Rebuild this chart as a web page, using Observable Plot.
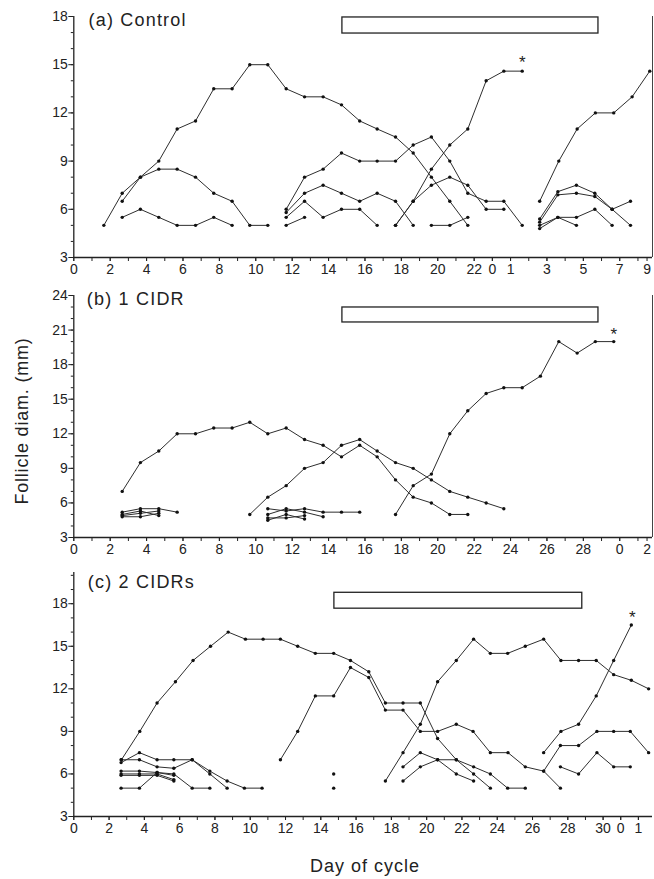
<!DOCTYPE html>
<html>
<head>
<meta charset="utf-8">
<script src="https://cdn.jsdelivr.net/npm/d3@7"></script>
<script src="https://cdn.jsdelivr.net/npm/@observablehq/plot@0.6"></script>
<style>
  html, body { margin: 0; padding: 0; background: #fff; }
  body { width: 654px; height: 879px; position: relative; overflow: hidden;
         font-family: "Liberation Sans", Arial, Helvetica, sans-serif; color: #222; }
  .panel { position: absolute; left: 0; }
  .panel svg { overflow: visible; }
  #ylab { position: absolute; left: 22px; top: 421px; transform: translate(-50%, -50%) rotate(-90deg);
          white-space: nowrap; font-size: 18px; letter-spacing: 0.8px; }
  #xlab { position: absolute; left: 365px; top: 866px; transform: translate(-50%, -50%);
          white-space: nowrap; font-size: 18px; letter-spacing: 1px; }
</style>
</head>
<body>
<div id="pa" class="panel" style="top:0px"></div>
<div id="pb" class="panel" style="top:280px"></div>
<div id="pc" class="panel" style="top:560px"></div>
<div id="ylab">Follicle diam. (mm)</div>
<div id="xlab">Day of cycle</div>
<script>
// ---------- Panel (a) Control ----------
const aTitle = "(a) Control";
const aYMajor = [3, 6, 9, 12, 15, 18];
const aYMinor = [3,4,5,6,7,8,9,10,11,12,13,14,15,16,17,18];
const aXTicks = [0, 2, 4, 6, 8, 10, 12, 14, 16, 18, 20, 22, 23, 24, 26, 28, 30, 31.5];
const aXLabels = ["0","2","4","6","8","10","12","14","16","18","20","22","0","1","3","5","7","9"];
const aBar = {x1: 14.76, x2: 28.83, y1: 16.94, y2: 17.94};
const aStar = {x: 24.64, y: 15.4};
const a1 = [[1.65,5],[2.66,7],[3.66,8],[4.67,9],[5.68,11],[6.69,11.5],[7.69,13.5],[8.70,13.5],[9.67,15],[10.66,15],[11.67,13.5],[12.68,13],[13.70,13],[14.71,12.5],[15.71,11.5],[16.67,11],[17.68,10.5],[18.65,9.5],[19.65,8],[20.66,6.5],[21.65,5]];
const a2 = [[2.66,6.5],[3.66,8],[4.67,8.5],[5.68,8.5],[6.69,8],[7.69,7],[8.70,6.5],[9.67,5],[10.66,5]];
const a3 = [[2.66,5.5],[3.66,6],[4.67,5.5],[5.68,5],[6.69,5],[7.69,5.5],[8.70,5]];
const a4 = [[11.67,6],[12.68,8],[13.70,8.5],[14.71,9.5],[15.71,9],[16.67,9],[17.68,9],[18.65,10],[19.65,10.5],[20.66,9],[21.65,7],[22.66,6.5],[23.63,6.5],[24.64,5]];
const a5 = [[11.67,5.8],[12.68,7],[13.70,7.5],[14.71,7],[15.71,6.5],[16.67,7],[17.68,6.5],[18.65,5]];
const a6 = [[11.67,5.5],[12.68,6.5],[13.70,5.5],[14.71,6],[15.71,6],[16.67,5]];
const a7 = [[11.67,5],[12.68,5.5]];
const a8 = [[17.68,5],[18.65,6.5],[19.65,8.5],[20.66,10],[21.65,11],[22.66,14],[23.63,14.6],[24.64,14.6]];
const a9 = [[17.68,5],[18.65,6.5],[19.65,7.5],[20.66,8],[21.65,7.5],[22.66,6],[23.63,6]];
const a10 = [[19.65,5],[20.66,5],[21.65,5.5]];
const a11 = [[25.6,6.5],[26.65,9],[27.66,11],[28.66,12],[29.67,12],[30.68,13],[31.65,14.6]];
const a12 = [[25.6,5.4],[26.6,7.1],[27.62,7.5],[28.63,7],[29.58,6],[30.59,5]];
const a13 = [[25.6,5.2],[26.6,6.9],[27.62,7],[28.63,6.8],[29.58,6],[30.59,6.5]];
const a14 = [[25.6,5],[26.6,5.5],[27.62,5.5],[28.63,6],[29.58,5]];
const a15 = [[25.6,4.8],[26.6,5.5],[27.62,5]];

// ---------- Panel (b) 1 CIDR ----------
const bTitle = "(b) 1 CIDR";
const bYMajor = [3, 6, 9, 12, 15, 18, 21, 24];
const bYMinor = [3,4,5,6,7,8,9,10,11,12,13,14,15,16,17,18,19,20,21,22,23,24];
const bXTicks = [0, 2, 4, 6, 8, 10, 12, 14, 16, 18, 20, 22, 24, 26, 28, 30, 31.5];
const bXLabels = ["0","2","4","6","8","10","12","14","16","18","20","22","24","26","28","0","2"];
const bBar = {x1: 14.76, x2: 28.83, y1: 21.66, y2: 22.96};
const bStar = {x: 29.67, y: 21.0};
const b1 = [[2.66,7],[3.66,9.5],[4.67,10.5],[5.68,12],[6.69,12],[7.69,12.5],[8.70,12.5],[9.67,13],[10.66,12],[11.67,12.5],[12.68,11.5],[13.70,11],[14.71,10],[15.71,11],[16.67,10],[17.68,8],[18.65,6.5],[19.65,6],[20.66,5],[21.65,5]];
const b2 = [[9.67,5],[10.66,6.5],[11.67,7.5],[12.68,9],[13.70,9.5],[14.71,11],[15.71,11.5],[16.67,10.5],[17.68,9.5],[18.65,9],[19.65,8],[20.66,7],[21.65,6.5],[22.66,6],[23.63,5.5]];
const b3 = [[17.68,5],[18.65,7.5],[19.65,8.5],[20.66,12],[21.65,14],[22.66,15.5],[23.63,16],[24.64,16],[25.64,17],[26.65,20],[27.66,19],[28.66,20],[29.67,20]];
const b4 = [[2.66,5.2],[3.66,5.5],[4.67,5.5],[5.68,5.2]];
const b5 = [[2.66,5.0],[3.66,5.3],[4.67,4.9]];
const b6 = [[2.66,4.8],[3.66,4.8],[4.67,5.1]];
const b7 = [[2.66,4.9],[3.66,5.1],[4.67,5.3]];
const b8 = [[10.66,5.5],[11.67,5.3],[12.68,5.5],[13.70,5.2],[14.71,5.2],[15.71,5.2]];
const b9 = [[10.66,5.0],[11.67,5.5],[12.68,5.2],[13.70,4.8]];
const b10 = [[10.66,4.7],[11.67,4.7],[12.68,4.9]];
const b11 = [[10.66,4.5],[11.67,5.0],[12.68,4.6]];

// ---------- Panel (c) 2 CIDRs ----------
const cTitle = "(c) 2 CIDRs";
const cYMajor = [3, 6, 9, 12, 15, 18];
const cYMinor = [3,4,5,6,7,8,9,10,11,12,13,14,15,16,17,18,19,20];
const cXTicks = [0, 2, 4, 6, 8, 10, 12, 14, 16, 18, 20, 22, 24, 26, 28, 30, 31, 32];
const cXLabels = ["0","2","4","6","8","10","12","14","16","18","20","22","24","26","28","30","0","1"];
const cBar = {x1: 14.77, x2: 28.82, y1: 17.65, y2: 18.77};
const cStar = {x: 31.65, y: 17.3};
const c1 = [[2.70,7],[3.74,9],[4.72,11],[5.76,12.5],[6.76,14],[7.75,15],[8.75,16],[9.73,15.5],[10.73,15.5],[11.71,15.5],[12.69,15],[13.69,14.5],[14.73,14.5],[15.68,14],[16.72,13.2],[17.66,11],[18.66,11],[19.64,11],[20.62,8.5],[21.68,7],[22.66,6],[23.61,5]];
const c2 = [[11.71,7],[12.69,9],[13.69,11.5],[14.73,11.5],[15.68,13.5],[16.72,12.8],[17.66,10.5],[18.66,10.5],[19.64,9],[20.62,9],[21.68,9.5],[22.63,9],[23.61,7.5],[24.61,7.5],[25.59,6.5],[26.63,6.2],[27.58,5]];
const c3 = [[17.66,5.5],[18.66,7.5],[19.64,9.5],[20.62,12.5],[21.68,14],[22.66,15.5],[23.61,14.5],[24.59,14.5],[25.59,15],[26.63,15.5],[27.61,14],[28.61,14],[29.61,14],[30.6,13],[31.6,12.6],[32.58,12]];
const c4 = [[18.66,6.5],[19.64,7.5],[20.62,7],[21.68,6],[22.66,5.5]];
const c5 = [[18.66,5.5],[19.64,6.5],[20.62,7],[21.68,7],[22.66,6.5],[23.61,6],[24.59,5],[25.59,5]];
const c6 = [[26.63,7.5],[27.61,9],[28.61,9.5],[29.61,11.5],[30.6,14],[31.6,16.5]];
const c7 = [[26.63,6.2],[27.58,8],[28.61,8],[29.65,9],[30.6,9],[31.54,9],[32.58,7.5]];
const c8 = [[27.58,6.5],[28.61,6],[29.65,7.5],[30.6,6.5],[31.54,6.5]];
const c9 = [[2.68,6.8],[3.72,7.5],[4.72,7],[5.67,7],[6.71,7],[7.71,6.2],[8.69,5.5],[9.67,5],[10.67,5]];
const c10 = [[2.68,7],[3.72,7],[4.72,6.5],[5.67,6.4],[6.71,7],[7.71,6],[8.69,5]];
const c11 = [[2.68,6.2],[3.72,6.2],[4.72,6.1],[5.67,6.0],[6.71,5.0],[7.71,5.0]];
const c12 = [[2.68,6.0],[3.72,6.0],[4.72,6.0],[5.67,5.6]];
const c13 = [[2.68,5.9],[3.72,5.9],[4.72,5.9],[5.67,5.5]];
const c14 = [[2.68,5.0],[3.72,5.0],[4.72,6.1],[5.67,5.9]];
const c15 = [[14.73,6]];
const c16 = [[14.73,5]];

const FONT = '"Liberation Sans", Arial, Helvetica, sans-serif';
const INK = "#222";

function toRows(list) {
  const rows = [];
  list.forEach((pts, k) => pts.forEach(([x, y]) => rows.push({id: k, x, y})));
  return rows;
}

function panel(o) {
  const rows = toRows(o.series);
  const lab = new Map(o.xTicks.map((t, i) => [t, o.xLabels[i]]));
  const days = d3.range(0, Math.floor(o.xDomain[1]) + 1);
  const marks = [
    Plot.axisY({ticks: o.yMinor, tickSize: 2.5, tickFormat: () => "", label: null, stroke: INK}),
    Plot.axisY({ticks: o.yMajor, tickSize: 5, tickPadding: 1, label: null, fontSize: 14, fill: INK, stroke: INK}),
    Plot.axisX({ticks: days, tickSize: 4, tickFormat: () => "", label: null, stroke: INK}),
    Plot.axisX({ticks: o.xTicks, tickSize: 4, tickPadding: 3, tickFormat: d => lab.get(d), label: null, fontSize: 14, fill: INK, stroke: INK}),
    Plot.ruleX([o.xDomain[0]], {stroke: INK, strokeWidth: 1.3}),
    Plot.ruleY([o.yDomain[0]], {stroke: INK, strokeWidth: 1.3}),
    o.rightLine ? Plot.ruleX([o.xDomain[1]], {stroke: "#444", strokeWidth: 1}) : null,
    Plot.rect([o.bar], {x1: "x1", x2: "x2", y1: "y1", y2: "y2", fill: "white", stroke: INK, strokeWidth: 1.3}),
    Plot.line(rows, {x: "x", y: "y", z: "id", stroke: "#2e2e2e", strokeWidth: 1}),
    Plot.dot(rows, {x: "x", y: "y", r: 1.7, fill: "#111", stroke: null}),
    Plot.text([o.star], {x: "x", y: "y", text: () => "*", fontSize: 17, fill: INK, dy: 4}),
    Plot.text([o.title], {frameAnchor: "top-left", textAnchor: "start", lineAnchor: "top",
      dx: o.titleDx, dy: o.titleDy, fontSize: 18, fill: INK})
  ];
  const chart = Plot.plot({
    width: 654, height: o.height,
    marginTop: o.mTop, marginBottom: o.mBottom, marginLeft: 73.3, marginRight: 2,
    style: {fontFamily: FONT, fontSize: "14px", background: "transparent", color: INK, overflow: "visible"},
    x: {domain: o.xDomain, axis: null},
    y: {domain: o.yDomain, axis: null},
    marks
  });
  d3.select(chart).selectAll('g[font-size="18"] text').style("letter-spacing", "1.2px");
  document.getElementById(o.el).appendChild(chart);
}

panel({el: "pa", height: 280, mTop: 16, mBottom: 23, xDomain: [0, 31.8], yDomain: [3, 18],
  yMajor: aYMajor, yMinor: aYMinor, xTicks: aXTicks, xLabels: aXLabels, bar: aBar, star: aStar,
  title: aTitle, titleDx: 14.7, titleDy: -3, rightLine: true,
  series: [a1,a2,a3,a4,a5,a6,a7,a8,a9,a10,a11,a12,a13,a14,a15]});

panel({el: "pb", height: 280, mTop: 15, mBottom: 23, xDomain: [0, 31.8], yDomain: [3, 24],
  yMajor: bYMajor, yMinor: bYMinor, xTicks: bXTicks, xLabels: bXLabels, bar: bBar, star: bStar,
  title: bTitle, titleDx: 13, titleDy: -3, rightLine: true,
  series: [b1,b2,b3,b4,b5,b6,b7,b8,b9,b10,b11]});

panel({el: "pc", height: 290, mTop: 12, mBottom: 34, xDomain: [0, 32.8], yDomain: [3, 20.2],
  yMajor: cYMajor, yMinor: cYMinor, xTicks: cXTicks, xLabels: cXLabels, bar: cBar, star: cStar,
  title: cTitle, titleDx: 14, titleDy: 3, rightLine: false,
  series: [c1,c2,c3,c4,c5,c6,c7,c8,c9,c10,c11,c12,c13,c14,c15,c16]});
</script>
</body>
</html>
